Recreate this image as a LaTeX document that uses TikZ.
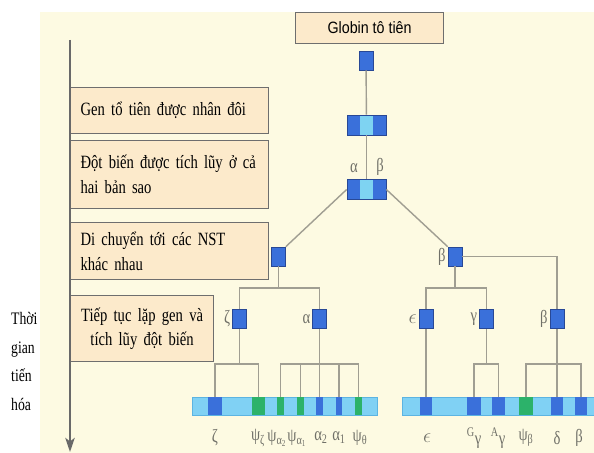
\documentclass[tikz,border=0pt]{standalone}
\usepackage{fontspec}
\setmainfont{Liberation Serif}[FakeStretch=0.78]
\newfontfamily\globinfont{Liberation Sans}[FakeStretch=0.87]
\usetikzlibrary{positioning, arrows, arrows.meta}

\definecolor{cream}{RGB}{253,250,226}
\definecolor{peach}{RGB}{252,234,203}
\definecolor{rim}{RGB}{110,110,110}
\definecolor{arrowgray}{RGB}{105,105,105}
\definecolor{genedark}{RGB}{58,112,218}
\definecolor{generim}{RGB}{40,72,150}
\definecolor{genelight}{RGB}{126,211,242}
\definecolor{pseudo}{RGB}{44,178,106}
\definecolor{chromblue}{RGB}{128,209,244}
\definecolor{chromrim}{RGB}{92,180,226}
\definecolor{branchgray}{RGB}{160,158,146}
\definecolor{lblgray}{RGB}{112,112,104}

\begin{document}
\begin{tikzpicture}[x=0.03cm, y=-0.03cm]
	\tikzstyle{box} = [draw=rim, fill=peach, line width=1, inner sep=0, inner xsep=0.3cm,
	anchor=north west, align=left, font=\fontsize{16}{21}\selectfont]
	\tikzstyle{gene} = [draw=generim, fill=genedark, line width=0.6, inner sep=0,
	minimum width=0.42cm, minimum height=0.57cm]
	\tikzstyle{pair} = [gene, fill=genelight, minimum width=1.17cm, minimum height=0.6cm,
	path picture={\fill[genedark] (path picture bounding box.south west) rectangle ([xshift=0.39cm]path picture bounding box.north west);
		\fill[genedark] (path picture bounding box.north east) rectangle ([xshift=-0.39cm]path picture bounding box.south east);}]
	\tikzstyle{chrom} = [fill=chromblue, draw=chromrim, line width=0.6, inner sep=0, minimum height=0.54cm]
	\tikzstyle{band} = [fill=genedark, inner sep=0, minimum height=0.52cm]
	\tikzstyle{psi} = [band, fill=pseudo]
	\tikzstyle{link} = [draw=branchgray, line width=1.2]
	\tikzstyle{lbl} = [text=lblgray, inner sep=0.5, font=\fontsize{16}{18}\selectfont]
	\tikzstyle{tline} = [draw=arrowgray, line width=2, -{Stealth[length=12pt, width=8pt, inset=3pt]}]
	
	\useasboundingbox (0,0) rectangle (594,453);
	\fill[cream] (40,12) rectangle (594,453);
	
	% cac buoc tien hoa
	\node [box, minimum width=5.94cm, minimum height=1.38cm, text width=5.34cm] (s1) at (70,87) {Gen tổ tiên được nhân đôi};
	\node [box, minimum width=5.94cm, minimum height=2.04cm, text width=5.34cm] (s2) at (70,140) {Đột biến được tích lũy ở cả\\hai bản sao};
	\node [box, minimum width=5.94cm, minimum height=1.71cm, text width=5.34cm] (s3) at (70,222) {Di chuyển tới các NST\\khác nhau};
	\node [box, minimum width=4.29cm, minimum height=1.98cm, text width=4.09cm, inner xsep=0.1cm, align=center] (s4) at (70,295) {Tiếp tục lặp gen và\\tích lũy đột biến};
	\node [anchor=north west, align=left, inner sep=0, font=\fontsize{15}{24.5}\selectfont] (evo) at (11,312) {Thời\\gian\\tiến\\hóa};
	\coordinate (t0) at (70,40);
	\coordinate (t1) at (70,452);
	\draw [tline] (t0) -- (t1);
	
	% cay gen
	\node [box, minimum width=4.44cm, minimum height=0.93cm, inner xsep=0, align=center, font=\globinfont\fontsize{14}{16}\selectfont] (root) at (295,12) {Globin tô tiên};
	\node [gene] (g0) at (366,60.5) {};
	\node [pair] (g1) at (366.5,125) {};
	\node [pair] (g2) at (366.5,189.5) {};
	\node [gene] (a) at (278.5,256.5) {};
	\node [gene] (b) at (455,256.5) {};
	\node [gene] (z) at (239.5,319) {};
	\node [gene] (al) at (319.5,319) {};
	\node [gene] (e) at (426,319) {};
	\node [gene] (gm) at (486.5,319) {};
	\node [gene] (bt) at (557,319) {};
	
	\node [lbl] (la) at (354,168) {α};
	\node [lbl] (lb) at (380,167) {β};
	\node [lbl, left=1pt of b] (lb2) {β};
	\node [lbl, left=1pt of z] (lz) {ζ};
	\node [lbl, left=1pt of al] (lal) {α};
	\node [lbl, left=1pt of e] (le) {$\epsilon$};
	\node [lbl, left=1pt of gm] (lgm) {γ};
	\node [lbl, left=1pt of bt] (lbt) {β};
	
	% nhiem sac the
	\node [chrom, minimum width=5.55cm] (cl) at (284.5,406) {};
	\node [chrom, minimum width=5.76cm] (cr) at (498,406) {};
	\node [band, minimum width=0.42cm] (kz) at (215,406) {};
	\node [psi, minimum width=0.39cm] (kpz) at (258.5,406) {};
	\node [psi, minimum width=0.21cm] (kpa2) at (280.5,406) {};
	\node [psi, minimum width=0.21cm] (kpa1) at (300.5,406) {};
	\node [band, minimum width=0.21cm] (ka2) at (319.5,406) {};
	\node [band, minimum width=0.2cm] (ka1) at (339,406) {};
	\node [psi, minimum width=0.21cm] (kpt) at (358.5,406) {};
	\node [band, minimum width=0.36cm] (ke) at (426,406) {};
	\node [band, minimum width=0.42cm] (kgg) at (474,406) {};
	\node [band, minimum width=0.39cm] (kag) at (498.5,406) {};
	\node [psi, minimum width=0.42cm] (kpb) at (526,406) {};
	\node [band, minimum width=0.36cm] (kd) at (557,406) {};
	\node [band, minimum width=0.36cm] (kb) at (581,406) {};
	
	\node [lbl] (tz) at (215,438) {ζ};
	\node [lbl] (tpz) at (258,438) {ψ\textsubscript{ζ}};
	\node [lbl] (tpa2) at (277,438) {ψ\textsubscript{α\textsubscript{2}}};
	\node [lbl] (tpa1) at (297,438) {ψ\textsubscript{α\textsubscript{1}}};
	\node [lbl] (ta2) at (321,438) {α\textsubscript{2}};
	\node [lbl] (ta1) at (339,438) {α\textsubscript{1}};
	\node [lbl] (tpt) at (360,438) {ψ\textsubscript{θ}};
	\node [lbl] (te) at (427,438) {$\epsilon$};
	\node [lbl] (tgg) at (474,438) {\textsuperscript{G}γ};
	\node [lbl] (tag) at (498,438) {\textsuperscript{A}γ};
	\node [lbl] (tpb) at (526,438) {ψ\textsubscript{β}};
	\node [lbl] (td) at (557,438) {δ};
	\node [lbl] (tb) at (579,438) {β};
	
	\coordinate (j1) at (278.5,288);
	\coordinate (j2) at (455,288);
	\coordinate (j3) at (239.5,364);
	\coordinate (j4) at (319.5,364);
	\coordinate (j5) at (486.5,364);
	\coordinate (j6) at (557,364);
	
	\draw [link] (g0) -- (g1);
	\draw [link] (g1) -- (g2);
	\draw [link] (g2.west) -- (a.north east);
	\draw [link] (g2.east) -- (b.north west);
	\draw [link] (a) -- (j1);
	\draw [link] (z.north) |- (j1) -| (al.north);
	\draw [link] (b) -- (j2);
	\draw [link] (e.north) |- (j2) -| (gm.north);
	\draw [link] (b.east) -| (bt.north);
	\draw [link] (z.south) -- (j3);
	\draw [link] (kz.north) |- (j3) -| (kpz.north);
	\draw [link] (al.south) -- (ka2.north);
	\draw [link] (kpa2.north) |- (j4) -| (kpt.north);
	\draw [link] (kpa1.north) -- (kpa1.north |- j4);
	\draw [link] (ka1.north) -- (ka1.north |- j4);
	\draw [link] (e.south) -- (ke.north);
	\draw [link] (gm.south) -- (j5);
	\draw [link] (kgg.north) |- (j5) -| (kag.north);
	\draw [link] (bt.south) -- (kd.north);
	\draw [link] (kpb.north) |- (j6) -| (kb.north);
\end{tikzpicture}
\end{document}
